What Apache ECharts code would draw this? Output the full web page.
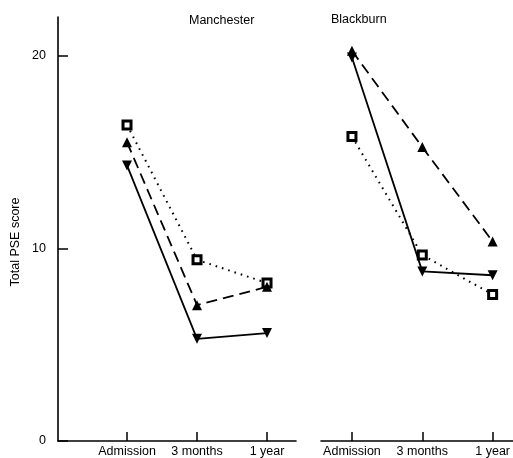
<!DOCTYPE html>
<html>
<head>
<meta charset="utf-8">
<script src="https://cdn.jsdelivr.net/npm/echarts@6/dist/echarts.min.js"></script>
<style>html,body{margin:0;padding:0;background:#fff}#c{width:513px;height:458px}</style>
</head>
<body>
<div id="c"></div>
<script>
const categories = ['Admission', '3 months', '1 year'];
const panels = ['Manchester', 'Blackburn'];
const yTitle = 'Total PSE score';
const yTicks = [0, 10, 20];
const manSolid = [14.3, 5.3, 5.6];
const manDashed = [15.5, 7.05, 8.0];
const manDotted = [16.4, 9.4, 8.2];
const blkSolid = [19.9, 8.8, 8.6];
const blkDashed = [20.25, 15.25, 10.35];
const blkDotted = [15.8, 9.65, 7.6];

const F = '"Liberation Sans", Arial, Helvetica, sans-serif';
const toXY = arr => arr.map((v, i) => [i, v]);

function xAxisFor(idx, min, max) {
  return {
    type: 'value', gridIndex: idx, min: min, max: max,
    splitLine: { show: false },
    axisLine: { show: true, onZero: false, lineStyle: { color: '#000', width: 1.6 } },
    axisTick: { show: true, inside: true, length: 9, customValues: [0, 1, 2], lineStyle: { color: '#000', width: 1.5 } },
    axisLabel: { customValues: [0, 1, 2], formatter: v => categories[Math.round(v)], color: '#000', fontSize: 12.5, fontFamily: F, margin: 4 }
  };
}
function lineSeries(data, xi, type, symbol, rotate) {
  return {
    type: 'line', xAxisIndex: xi, yAxisIndex: xi, data: toXY(data),
    symbol: symbol, symbolSize: symbol === 'rect' ? 8 : 10, symbolRotate: rotate || 0,
    lineStyle: { color: '#000', width: type === 'dotted' ? 2 : 1.8, type: type === 'dotted' ? [1.6, 5] : (type === 'dashed' ? [11, 6] : 'solid') },
    itemStyle: symbol === 'rect' ? { color: '#fff', borderColor: '#000', borderWidth: 3 } : { color: '#000' },
    animation: false, z: 3
  };
}

const chart = echarts.init(document.getElementById('c'));
chart.setOption({
  backgroundColor: '#fff',
  animation: false,
  title: [
    { text: panels[0], left: 184, top: 9, textStyle: { fontSize: 12.5, fontWeight: 'normal', color: '#000', fontFamily: F } },
    { text: panels[1], left: 326, top: 8, textStyle: { fontSize: 12.5, fontWeight: 'normal', color: '#000', fontFamily: F } }
  ],
  graphic: [{
    type: 'text', x: 16, y: 242, rotation: Math.PI / 2,
    style: { text: yTitle, fill: '#000', font: '12.5px ' + F, align: 'center', verticalAlign: 'middle' }
  }],
  grid: [
    { left: 58, top: 17, width: 238, bottom: 17 },
    { left: 321, top: 17, width: 192, bottom: 17 }
  ],
  xAxis: [xAxisFor(0, -0.986, 2.414), xAxisFor(1, -0.44, 2.284)],
  yAxis: [
    {
      type: 'value', gridIndex: 0, min: 0, max: 22,
      splitLine: { show: false },
      axisLine: { show: true, onZero: false, lineStyle: { color: '#000', width: 1.6 } },
      axisTick: { show: true, inside: true, length: 10, customValues: yTicks, lineStyle: { color: '#000', width: 1.5 } },
      axisLabel: { customValues: yTicks, color: '#000', fontSize: 12.5, fontFamily: F, margin: 12 }
    },
    { type: 'value', gridIndex: 1, min: 0, max: 22, show: false, splitLine: { show: false } }
  ],
  series: [
    lineSeries(manDotted, 0, 'dotted', 'rect'),
    lineSeries(manDashed, 0, 'dashed', 'triangle'),
    lineSeries(manSolid, 0, 'solid', 'triangle', 180),
    lineSeries(blkDotted, 1, 'dotted', 'rect'),
    lineSeries(blkDashed, 1, 'dashed', 'triangle'),
    lineSeries(blkSolid, 1, 'solid', 'triangle', 180)
  ]
});
</script>
</body>
</html>
